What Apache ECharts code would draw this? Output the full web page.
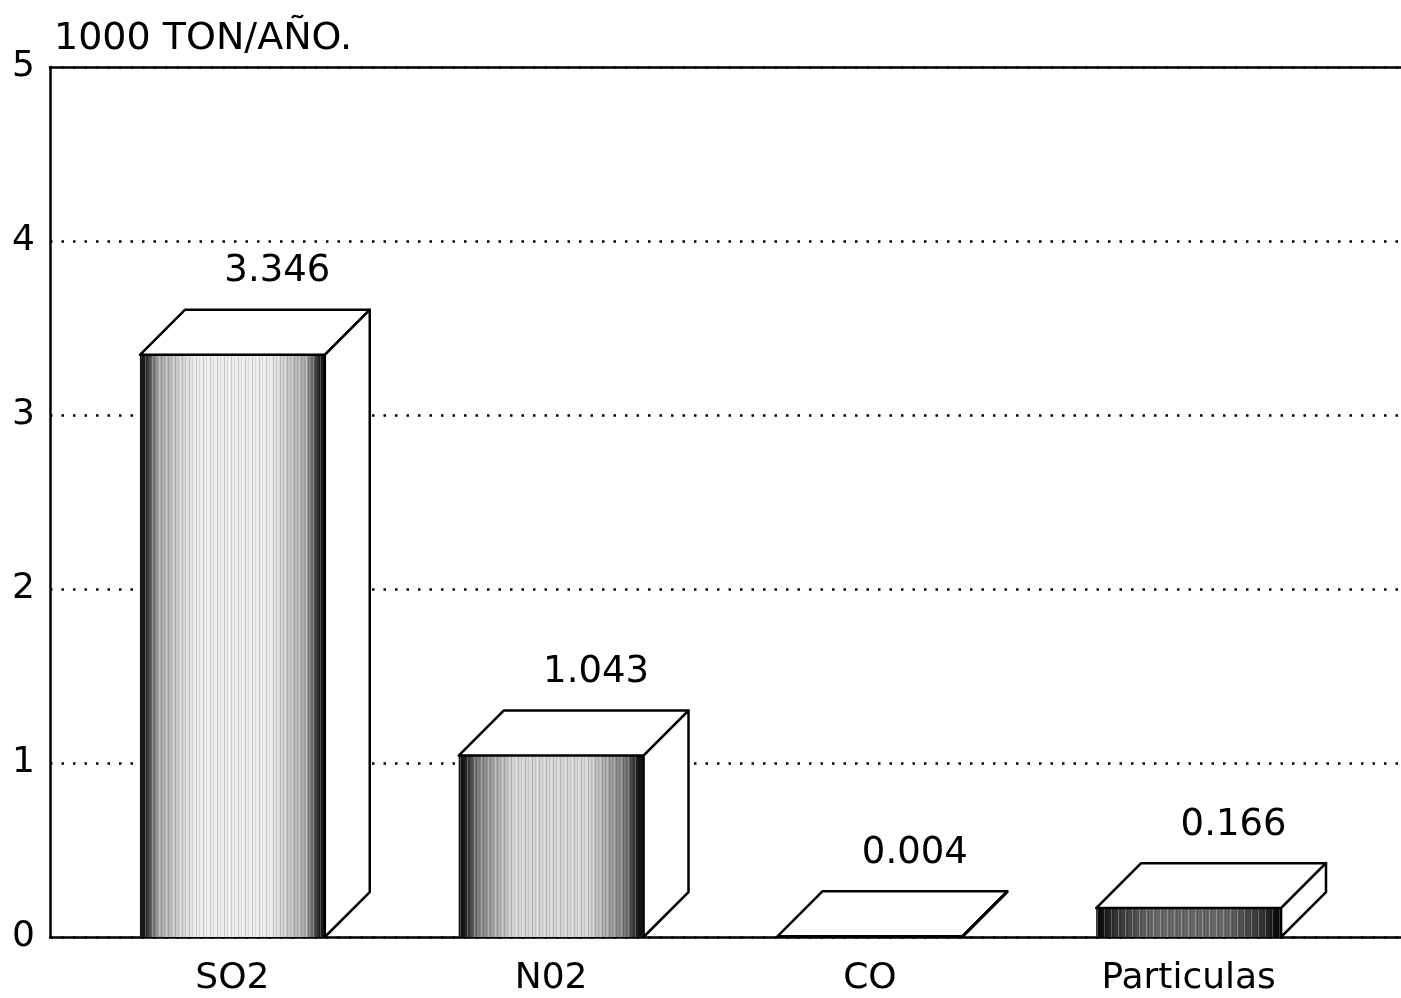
<!DOCTYPE html>
<html>
<head>
<meta charset="utf-8">
<script src="https://cdn.jsdelivr.net/npm/echarts@6/dist/echarts.min.js"></script>
<style>
  html, body { margin: 0; padding: 0; background: #fff; }
  #chart { width: 1401px; height: 998px; }
</style>
</head>
<body>
<div id="chart"></div>
<script>
// Annual emissions (thousand tonnes per year)
const categories = ['SO2', 'N02', 'CO', 'Particulas'];
const emissions = [3.346, 1.043, 0.004, 0.166];
const yMin = 0;
const yMax = 5;
const yStep = 1;
const unitTitle = '1000 TON/AÑO.';

const FONT = 'DejaVu Sans';
// Front-face shading for each box: [outer edge, inner edge, centre]
const faceShades = [
  ['#1a1a1a', '#a8a8a8', '#ececec'],
  ['#111111', '#7a7a7a', '#d6d6d6'],
  ['#111111', '#666666', '#bbbbbb'],
  ['#0d0d0d', '#333333', '#686868']
];

// Fine vertical hatching laid over the front faces
function makeHatch() {
  const c = document.createElement('canvas');
  c.width = 7; c.height = 4;
  const g = c.getContext('2d');
  g.fillStyle = 'rgba(0,0,0,0.16)';
  g.fillRect(0, 0, 1, 4);
  g.fillStyle = 'rgba(0,0,0,0.08)';
  g.fillRect(3, 0, 1, 4);
  g.fillStyle = 'rgba(255,255,255,0.25)';
  g.fillRect(5, 0, 1, 4);
  return c;
}
const hatch = makeHatch();

const chart = echarts.init(document.getElementById('chart'));

// Draws one pseudo-3D box: shaded front face, outlined top and side faces, value label.
function renderBox(params, api) {
  const i = api.value(0);
  const v = api.value(1);
  const top = api.coord([i, v]);
  const base = api.coord([i, 0]);
  const band = api.size([1, 0])[0];
  const w = band * 0.58;
  const d = band * 0.141;
  const x0 = top[0] - w / 2;
  const x1 = top[0] + w / 2;
  const yT = top[1];
  const yB = base[1];
  const s = faceShades[i];
  const fill = new echarts.graphic.LinearGradient(0, 0, 1, 0, [
    { offset: 0, color: s[0] },
    { offset: 0.025, color: s[0] },
    { offset: 0.1, color: s[1] },
    { offset: 0.3, color: s[2] },
    { offset: 0.7, color: s[2] },
    { offset: 0.9, color: s[1] },
    { offset: 0.975, color: s[0] },
    { offset: 1, color: s[0] }
  ]);
  const faceH = Math.max(yB - yT, 0);
  const outline = { stroke: '#000', lineWidth: 2.5, fill: '#fff', lineJoin: 'round' };
  return {
    type: 'group',
    children: [
      { type: 'rect', shape: { x: x0, y: yT, width: w, height: faceH }, style: { fill: fill } },
      { type: 'rect', shape: { x: x0, y: yT, width: w, height: faceH }, style: { fill: { image: hatch, repeat: 'repeat' } } },
      { type: 'polygon', shape: { points: [[x0, yT], [x0 + d, yT - d], [x1 + d, yT - d], [x1, yT]] }, style: outline },
      { type: 'polygon', shape: { points: [[x1, yT], [x1 + d, yT - d], [x1 + d, yB - d], [x1, yB]] }, style: outline },
      {
        type: 'text',
        style: {
          text: v.toFixed(3),
          x: (x0 + x1) / 2 + d,
          y: yT - d - 38,
          align: 'center',
          verticalAlign: 'middle',
          fontFamily: FONT,
          fontSize: 37,
          fill: '#000'
        }
      }
    ]
  };
}

const option = {
  animation: false,
  backgroundColor: '#fff',
  title: {
    text: unitTitle,
    left: 49,
    top: 15,
    textStyle: { fontFamily: FONT, fontSize: 38, fontWeight: 'normal', color: '#000' }
  },
  grid: [
    { left: 50, right: 0, top: 67, bottom: 61 },
    { left: 73, width: 1275, top: 67, bottom: 61 }
  ],
  xAxis: [
    {
      gridIndex: 0, type: 'value', min: 0, max: 1, position: 'bottom',
      axisLine: { show: true, lineStyle: { color: '#000', width: 2.5 } },
      axisTick: { show: false }, axisLabel: { show: false }, splitLine: { show: false }
    },
    {
      gridIndex: 0, type: 'value', min: 0, max: 1, position: 'top',
      axisLine: { show: true, lineStyle: { color: '#000', width: 2.5 } },
      axisTick: { show: false }, axisLabel: { show: false }, splitLine: { show: false }
    },
    {
      gridIndex: 1, type: 'category', data: categories,
      axisLine: { show: false }, axisTick: { show: false }, splitLine: { show: false },
      axisLabel: { fontFamily: FONT, fontSize: 36, color: '#000', margin: 24 }
    }
  ],
  yAxis: [
    {
      gridIndex: 0, type: 'value', min: yMin, max: yMax, interval: yStep,
      axisLine: { show: true, lineStyle: { color: '#000', width: 2.5 } },
      axisTick: { show: false },
      axisLabel: { fontFamily: FONT, fontSize: 36, color: '#000', margin: 15 },
      splitLine: { show: true, lineStyle: { color: '#000', width: 2.5, type: [2.5, 9] } }
    },
    {
      gridIndex: 1, type: 'value', min: yMin, max: yMax, interval: yStep, show: false
    }
  ],
  series: [
    {
      type: 'custom',
      xAxisIndex: 2,
      yAxisIndex: 1,
      clip: false,
      encode: { x: 0, y: 1 },
      renderItem: renderBox,
      data: emissions.map((v, i) => [i, v])
    }
  ]
};

chart.setOption(option);
</script>
</body>
</html>
